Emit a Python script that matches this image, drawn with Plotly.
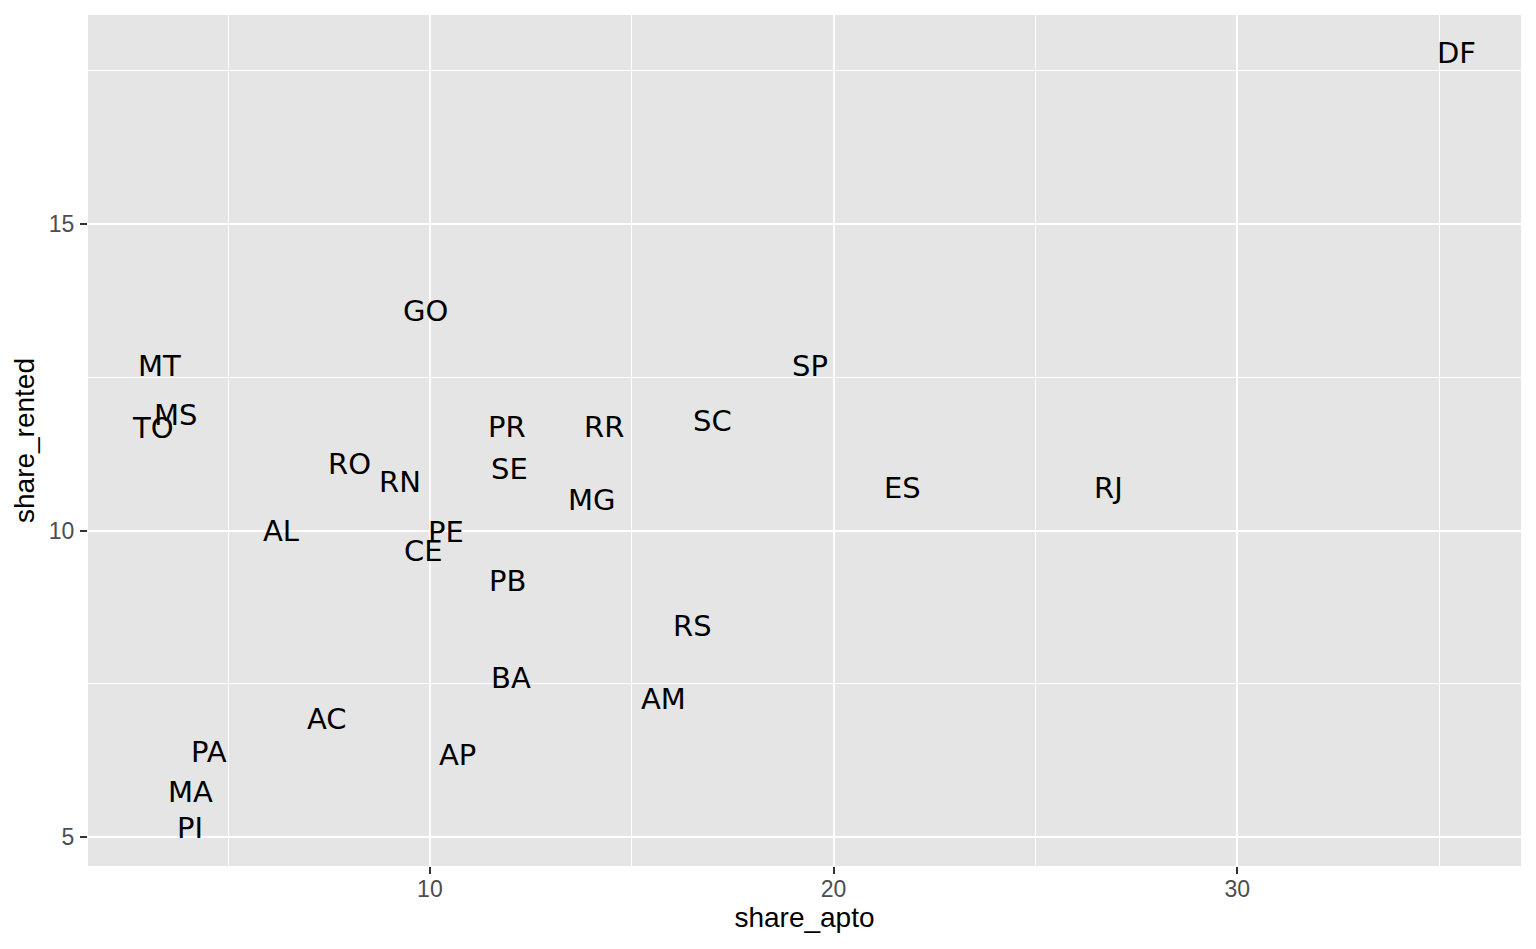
import plotly.graph_objects as go

states = ["DF", "GO", "MT", "SP", "MS", "TO", "PR", "RR", "SC", "RO", "SE", "RN", "ES", "RJ",
          "MG", "AL", "PE", "CE", "PB", "RS", "BA", "AM", "AC", "PA", "AP", "MA", "PI"]
share_apto = [35.42, 9.88, 3.29, 19.41, 3.69, 3.14, 11.91, 14.31, 17.0, 8.0, 11.98, 9.26, 21.71, 26.81,
              14.01, 6.31, 10.40, 9.85, 11.91, 16.51, 12.0, 15.79, 7.45, 4.53, 10.69, 4.06, 4.06]
share_rented = [17.79, 13.58, 12.68, 12.68, 11.88, 11.67, 11.69, 11.69, 11.79, 11.08, 11.0, 10.79, 10.69, 10.69,
                10.50, 10.0, 9.98, 9.67, 9.18, 8.44, 7.59, 7.25, 6.92, 6.39, 6.34, 5.73, 5.15]

x_ticks = [10, 20, 30]
y_ticks = [5, 10, 15]

fig = go.Figure()
# invisible carrier trace (hover), labels drawn as data-anchored annotations
fig.add_trace(go.Scatter(
    x=share_apto, y=share_rented, text=states, mode="markers",
    marker=dict(size=1, opacity=0),
    hoverinfo="x+y+text", showlegend=False,
))
for sx, sy, s in zip(share_apto, share_rented, states):
    fig.add_annotation(x=sx, y=sy, xref="x", yref="y", text=s, showarrow=False,
                       xanchor="center", yanchor="middle", yshift=0,
                       font=dict(family="DejaVu Sans", size=29, color="black"))

axis_common = dict(
    showgrid=True, gridcolor="white", gridwidth=2.2,
    minor=dict(showgrid=True, gridcolor="white", gridwidth=1.1),
    zeroline=False, showline=False,
    ticks="outside", ticklen=7, tickwidth=2.4, tickcolor="#333333",
    tickfont=dict(family="Liberation Sans", size=23, color="#4D4D4D"),
)

fig.update_xaxes(range=[1.53, 37.03], tickvals=x_ticks, ticktext=[str(v) for v in x_ticks],
                 minor_tickvals=[5, 15, 25, 35], minor_ticks="",
                 title=dict(text="share_apto", font=dict(family="Liberation Sans", size=28, color="black"), standoff=6),
                 ticklabelstandoff=-5,
                 **axis_common)
fig.update_yaxes(range=[4.527, 18.41], tickvals=y_ticks, ticktext=[str(v) for v in y_ticks],
                 minor_tickvals=[7.5, 12.5, 17.5], minor_ticks="",
                 title=dict(text="share_rented", font=dict(family="Liberation Sans", size=28, color="black"), standoff=6),
                 ticklabelstandoff=1,
                 **axis_common)

fig.update_layout(
    width=1528, height=941,
    margin=dict(l=80, r=15, t=7, b=83),
    plot_bgcolor="#E5E5E5", paper_bgcolor="white",
)

fig.write_html("out.html")
